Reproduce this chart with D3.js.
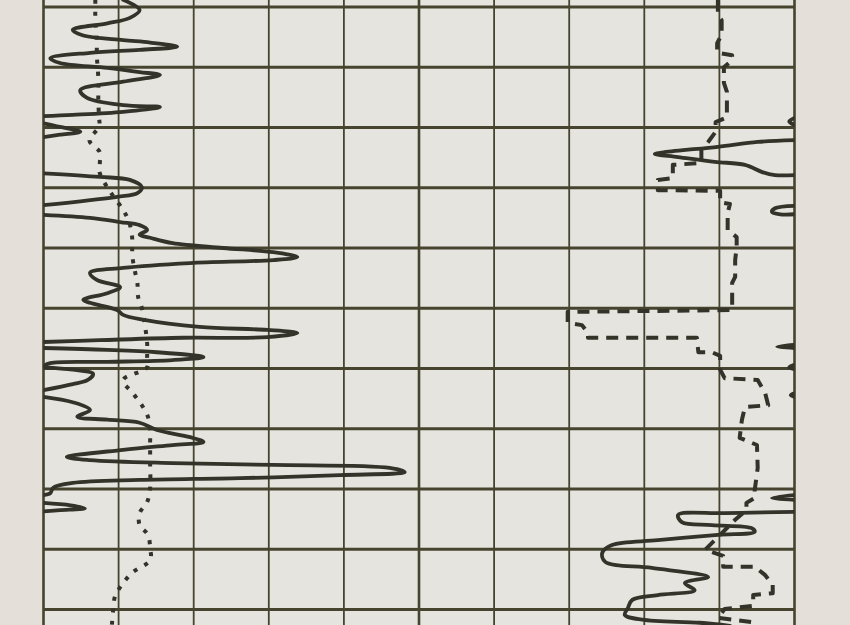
<!DOCTYPE html>
<html>
<head>
<meta charset="utf-8">
<script src="https://cdn.jsdelivr.net/npm/d3@7"></script>
<style>
  html, body { margin: 0; padding: 0; background: #e4e0d9; }
  svg { display: block; }
</style>
</head>
<body>
<svg id="chart" width="850" height="625"></svg>
<script>
// ---- Grid definition (log track divisions) ----
const gridValues = d3.range(0, 101, 10);   // horizontal scale divisions
const gridDepths = d3.range(0, 101, 10);   // depth lines
const heavyValues = [0, 50, 100];

// ---- Left track: solid curve (segments, [value, depth]) ----
const leftSolidSeg1 = [[10.6,-1.2],[12.8,0.5],[11.5,1.8],[8.5,2.7],[3.9,3.8],[5.2,4.7],[10.6,5.5],[14.2,5.9],[17.8,6.6],[12.8,7.1],[6.2,7.6],[0.9,8.5],[2.2,9.3],[8.5,10.1],[12.8,10.8],[15.5,11.3],[10.6,12.4],[4.9,13.8],[5.8,15.1],[10.6,16.3],[15.5,16.6],[10.6,17.4],[3.9,17.9],[0,18.1]];
const leftSolidSeg2 = [[0,19.3],[2.2,19.9],[4.9,20.7],[2.2,21.2],[0,21.6]];
const leftSolidSeg3 = [[0,27.6],[7.5,28.2],[11.5,28.7],[13.1,29.9],[12.5,30.9],[9.8,31.5],[0,32.9]];
const leftSolidSeg4 = [[0,34.5],[6.2,35.0],[10.2,35.7],[12.8,36.2],[13.8,37.0],[12.8,37.8],[14.2,38.3],[17.2,39.2],[23.9,40.0],[30.6,40.7],[33.8,41.5],[30.6,42.0],[19.5,42.5],[10.6,43.3],[6.2,44.1],[7.1,45.3],[10.2,46.5],[8.5,47.5],[5.3,48.6],[6.2,49.1],[9.8,50.3],[10.6,51.1],[13.2,51.9],[20.8,53.1],[29.8,53.6],[33.8,54.1],[29.8,54.8],[18.6,54.9],[7.5,55.3],[0,55.6]];
const leftSolidSeg5 = [[0,56.6],[8.5,56.9],[15.1,57.3],[21.3,58.1],[17.2,58.6],[8.5,58.9],[0.9,59.1],[0,59.6]];
const leftSolidSeg6 = [[0,59.8],[3.9,60.2],[6.6,60.9],[5.9,61.9],[3.9,62.6],[0,63.6]];
const leftSolidSeg7 = [[0,64.7],[3.9,65.6],[6.2,66.9],[4.5,68.0],[8.5,68.5],[12.8,69.0],[15.1,70.2],[19.5,71.4],[21.3,72.2],[17.2,72.7],[10.6,73.5],[3.1,74.7],[6.2,75.2],[17.2,75.7],[30.6,76.0],[46.1,76.5],[48.1,77.2],[39.5,77.7],[26.2,78.2],[12.8,78.5],[3.9,79.0],[1.3,79.8],[0.9,80.7],[0,81.0]];
const leftSolidSeg8 = [[0,82.3],[3.6,82.7],[5.5,83.2],[2.2,83.5],[0,83.7]];

// ---- Left track: dotted curve ----
const leftDotted = [[6.9,-1.2],[6.9,-0.3],[6.9,1.8],[7.0,3.8],[7.1,6.0],[7.1,8.0],[7.3,11.8],[7.3,13.8],[7.3,15.9],[7.4,18.3],[7.4,19.9],[6.1,22.1],[7.5,24.1],[7.5,25.9],[7.5,27.6],[8.9,30.7],[10.6,33.7],[11.4,35.7],[11.8,38.2],[11.8,40.0],[11.9,42.0],[12.2,44.0],[12.5,45.8],[12.6,48.1],[13.1,50.0],[13.5,52.8],[13.8,55.8],[13.8,58.1],[13.8,59.8],[10.6,61.9],[11.9,64.1],[13.1,66.1],[13.9,68.0],[14.2,70.2],[14.2,72.2],[14.2,76.0],[14.2,79.8],[13.8,82.2],[12.8,84.0],[12.8,86.0],[13.9,87.6],[14.2,89.8],[14.2,91.8],[11.8,93.9],[10.2,96.3],[9.5,97.9],[9.3,99.8],[9.1,102.6]];

// ---- Right track: dashed curve ----
const rightDashed = [[89.8,-1.2],[89.8,1.2],[90.3,2.2],[90.3,4.6],[89.7,6.0],[89.7,7.6],[91.7,8.0],[91.7,8.8],[90.6,10.0],[90.6,12.6],[91.0,14.1],[91.0,18.3],[89.5,19.1],[89.5,20.7],[88.5,22.4],[87.6,23.7],[87.6,25.9],[83.8,26.2],[83.8,28.4],[81.8,28.7],[81.8,30.4],[90.1,30.5],[90.1,32.4],[91.4,32.7],[91.1,34.2],[91.1,37.0],[92.3,38.2],[92.3,39.8],[92.1,42.0],[92.1,44.8],[91.7,45.8],[91.7,50.3],[69.8,50.6],[69.8,52.4],[71.7,52.8],[72.5,54.1],[72.5,54.9],[87.0,54.9],[87.2,57.3],[89.0,57.3],[90.1,57.9],[90.1,60.2],[90.7,61.6],[95.1,61.9],[96.1,64.1],[96.5,66.1],[93.4,66.4],[93.0,68.5],[92.7,71.5],[95.0,72.7],[95.1,76.5],[94.7,80.2],[94.7,81.5],[93.6,82.3],[93.6,83.5],[92.1,85.1],[90.1,87.6],[88.1,90.1],[90.5,91.1],[90.5,92.9],[94.7,92.9],[96.1,94.3],[97.1,95.9],[97.1,97.3],[94.5,97.6],[94.5,99.4],[90.7,99.9],[89.8,101.4],[95.1,102.2]];

// ---- Right track: solid curve (segments) ----
const rightSolidSeg1 = [[100,18.4],[99.3,19.0],[100,19.6]];
const rightSolidSeg2 = [[100,22.1],[95.1,22.4],[89.8,23.2],[82.7,24.1],[81.4,24.4],[84.5,24.9],[89.4,25.7],[93.4,26.2],[95.7,27.4],[97.4,27.9],[100,27.9]];
const rightSolidSeg3 = [[100,33.0],[97.4,33.4],[97.0,34.0],[98.1,34.4],[100,34.4]];
const rightSolidSeg4 = [[100,56.1],[97.7,56.4],[100,56.6]];
const rightSolidSeg5 = [[100,59.4],[99.3,59.8],[100,60.1]];
const rightSolidSeg6 = [[100,64.1],[99.5,64.4],[100,64.7]];
const rightSolidSeg7 = [[100,81.0],[97.0,81.5],[100,81.8]];
const rightSolidSeg8 = [[100,83.8],[90.7,84.0],[84.5,84.3],[85.0,85.5],[89.0,86.0],[94.3,86.5],[94.7,87.1],[89.8,87.6],[81.8,88.5],[75.7,89.3],[74.4,90.6],[74.8,92.1],[81.0,93.1],[88.5,94.6],[85.4,95.6],[86.7,96.8],[81.8,97.6],[78.4,98.4],[77.8,99.8],[77.4,100.9],[79.7,101.7],[87.4,102.2],[91.4,102.7]];

const leftSolid = [leftSolidSeg1,leftSolidSeg2,leftSolidSeg3,leftSolidSeg4,leftSolidSeg5,leftSolidSeg6,leftSolidSeg7,leftSolidSeg8];
const rightSolid = [rightSolidSeg1,rightSolidSeg2,rightSolidSeg3,rightSolidSeg4,rightSolidSeg5,rightSolidSeg6,rightSolidSeg7,rightSolidSeg8];

// ---- Drawing ----
const W = 850, H = 625;
const svg = d3.select('#chart');
const x = d3.scaleLinear().domain([0, 100]).range([43.5, 794.5]);
const y = d3.scaleLinear().domain([0, 100]).range([7, 609.5]);

const gridColor = '#46442f';
const inkColor = '#34332a';

svg.append('defs').append('clipPath').attr('id', 'frame')
  .append('rect').attr('x', x(0)).attr('y', 0)
  .attr('width', x(100) - x(0)).attr('height', H);

// paper inside the track frame
svg.append('rect').attr('x', x(0)).attr('y', 0)
  .attr('width', x(100) - x(0)).attr('height', H).attr('fill', '#e6e4df');

const grid = svg.append('g');
grid.selectAll('line.h').data(gridDepths).join('line')
  .attr('x1', x(0)).attr('x2', x(100))
  .attr('y1', d => y(d)).attr('y2', d => y(d))
  .attr('stroke', gridColor).attr('stroke-width', 2.8);
grid.selectAll('line.v').data(gridValues).join('line')
  .attr('x1', d => x(d)).attr('x2', d => x(d))
  .attr('y1', 0).attr('y2', H)
  .attr('stroke', gridColor)
  .attr('stroke-width', d => heavyValues.includes(d) ? 2.6 : 1.8);

const smooth = d3.line().x(d => x(d[0])).y(d => y(d[1]))
  .curve(d3.curveCatmullRom.alpha(0.5));
const straight = d3.line().x(d => x(d[0])).y(d => y(d[1]));

const curves = svg.append('g')
  .attr('clip-path', 'url(#frame)')
  .attr('fill', 'none')
  .attr('stroke', inkColor)
  .attr('stroke-linejoin', 'round');

curves.selectAll('path.ls').data(leftSolid).join('path')
  .attr('d', smooth).attr('stroke-width', 3.8).attr('stroke-linecap', 'round');

curves.append('path').datum(leftDotted)
  .attr('d', smooth).attr('stroke-width', 4)
  .attr('stroke-dasharray', '4,8');

curves.append('path').datum(rightDashed)
  .attr('d', straight).attr('stroke-width', 4)
  .attr('stroke-dasharray', '12,8');

curves.selectAll('path.rs').data(rightSolid).join('path')
  .attr('d', smooth).attr('stroke-width', 3.8).attr('stroke-linecap', 'round');
</script>
</body>
</html>
